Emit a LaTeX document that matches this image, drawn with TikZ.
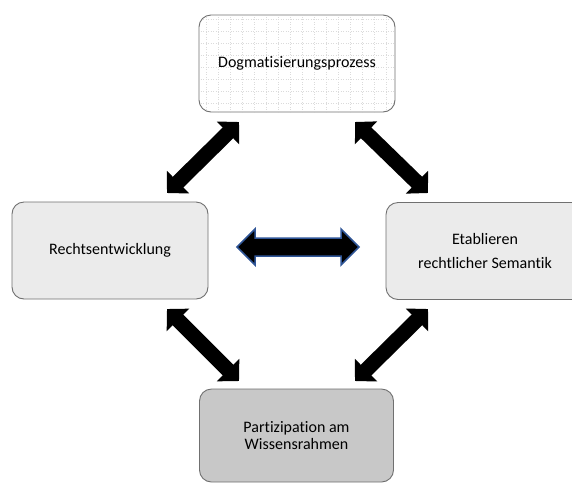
\documentclass[tikz,border=0pt]{standalone}
\usepackage{fontspec}
\setmainfont{Carlito}[Ligatures=NoCommon]
\usetikzlibrary{arrows.meta}
\definecolor{bord}{HTML}{707070}
\definecolor{lightbox}{HTML}{EBEBEB}
\definecolor{darkbox}{HTML}{C8C8C8}
\definecolor{arrowblue}{HTML}{2F5597}
\begin{document}
\begin{tikzpicture}[x=1pt,y=-1pt,
  box/.style={draw=bord, line width=0.9pt, rounded corners=12pt, align=center,
    font=\fontsize{16}{18}\selectfont, inner sep=0pt},
  blockarrow/.style={line width=15pt,
    {Triangle[width=31pt,length=15.5pt]}-{Triangle[width=31pt,length=15.5pt]}},
  midarrow/.style={draw=arrowblue, line width=1.5pt, fill=black, line join=miter}]
\useasboundingbox (0,0) rectangle (572,483);
\clip (0,0) rectangle (572,483);
\fill[white] (0,0) rectangle (572,483);

\node[box, fill=white, minimum width=196pt, minimum height=97pt,
  path picture={\draw[dotted, gray!28, line width=0.5pt]
    ([shift={(-1pt,1pt)}]path picture bounding box.north west) grid[step=12pt]
    (path picture bounding box.south east);}] (top) at (297,63.5) {Dogmatisierungsprozess};
\node[box, fill=lightbox, minimum width=196pt, minimum height=97pt] (left) at (110,250.5) {Rechtsentwicklung};
\node[box, fill=lightbox, minimum width=198pt, minimum height=97pt,
  font=\fontsize{16}{24}\selectfont] (right) at (485,251) {Etablieren\\rechtlicher Semantik};
\node[box, fill=darkbox, minimum width=194pt, minimum height=93pt,
  font=\fontsize{16}{17}\selectfont] (bottom) at (296.5,435.5) {Partizipation am\\Wissensrahmen};

\coordinate (tl1) at (239,122);
\coordinate (tl2) at (167,193);
\coordinate (tr1) at (355,122);
\coordinate (tr2) at (428,193);
\coordinate (bl1) at (167,309);
\coordinate (bl2) at (239,381);
\coordinate (br1) at (428,309);
\coordinate (br2) at (355,381);

\draw[blockarrow] (tl1) -- (tl2);
\draw[blockarrow] (tr1) -- (tr2);
\draw[blockarrow] (bl1) -- (bl2);
\draw[blockarrow] (br1) -- (br2);

\path[midarrow] (237,247) -- (255,229) -- (255,238) -- (341,238) -- (341,229)
  -- (359,247) -- (341,265) -- (341,256) -- (255,256) -- (255,265) -- cycle;
\end{tikzpicture}
\end{document}
